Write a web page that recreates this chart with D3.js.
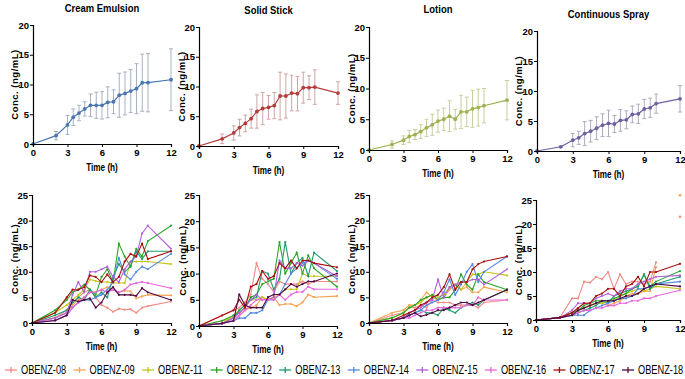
<!DOCTYPE html>
<html>
<head>
<meta charset="utf-8">
<script src="https://cdn.jsdelivr.net/npm/d3@7"></script>
<style>
  html, body { margin: 0; padding: 0; background: #fff; }
  svg { display: block; font-family: "Liberation Sans", Arial, sans-serif; }
  .tick text { font-size: 9.5px; font-weight: bold; fill: #000; }
  .domain, .tick line { stroke: #000; }
</style>
</head>
<body>
<svg id="chart" width="685" height="379"></svg>
<script>
// sampling times (h)
var times = [0, 2, 3, 3.5, 4, 4.5, 5, 5.5, 6, 6.5, 7, 7.5, 8, 8.5, 9, 9.5, 10, 12];
var xTicks = [0, 3, 6, 9, 12];
var yTicksTop = [0, 5, 10, 15, 20];
var yTicksBottom = [0, 5, 10, 15, 20, 25];

var formulations = ['Cream Emulsion', 'Solid Stick', 'Lotion', 'Continuous Spray'];

// mean concentrations and SD per formulation
var creamMean = [0, 1.4, 3.2, 4.5, 5.2, 5.9, 6.5, 6.5, 6.5, 7.0, 7.1, 8.2, 8.5, 8.9, 9.3, 10.3, 10.3, 10.8];
var creamSD   = [0, 0.7, 1.6, 1.4, 1.3, 1.2, 1.9, 2.2, 2.3, 2.6, 2.0, 3.7, 3.6, 3.6, 4.2, 4.8, 4.9, 5.2];
var stickMean = [0, 1.2, 2.2, 3.1, 3.8, 4.6, 5.8, 6.3, 6.5, 6.8, 8.4, 8.4, 8.9, 8.8, 9.8, 9.8, 9.9, 8.9];
var stickSD   = [0, 0.8, 1.2, 1.4, 1.4, 1.6, 2.8, 2.7, 2.0, 2.2, 4.0, 3.7, 3.0, 2.9, 2.6, 2.0, 2.9, 1.9];
var lotionMean = [0, 0.9, 1.6, 2.2, 2.5, 3.0, 3.6, 4.1, 4.7, 5.0, 5.5, 5.0, 6.2, 6.2, 6.7, 6.9, 7.2, 8.1];
var lotionSD   = [0, 0.6, 0.7, 1.0, 0.8, 1.1, 1.4, 1.7, 1.8, 1.8, 2.5, 1.6, 2.7, 2.4, 3.0, 3.0, 2.8, 3.2];
var sprayMean = [0, 0.7, 1.8, 2.2, 2.9, 3.3, 3.8, 4.3, 4.6, 4.5, 5.1, 5.2, 6.1, 6.2, 7.0, 7.2, 7.9, 8.7];
var spraySD   = [0, 0.1, 1.1, 1.1, 2.0, 1.8, 1.9, 1.9, 2.2, 1.4, 1.8, 1.5, 1.4, 1.6, 1.6, 1.6, 1.6, 2.2];

var subjects = ['OBENZ-08', 'OBENZ-09', 'OBENZ-11', 'OBENZ-12', 'OBENZ-13',
                'OBENZ-14', 'OBENZ-15', 'OBENZ-16', 'OBENZ-17', 'OBENZ-18'];

// individual profiles, one row per subject (same order as subjects)
var creamSubjects = [
  [0, 1.0, 2.5, 4.0, 5.0, 6.0, 6.5, 5.0, 3.5, 3.0, 2.2, 2.8, 2.6, 2.7, 2.0, 3.0, 3.3, 4.2],
  [0, 1.0, 2.0, 3.5, 4.5, 5.0, 6.0, 6.0, 6.5, 7.0, 6.5, 6.0, 6.3, 6.2, 4.8, 5.2, 5.5, 5.4],
  [0, 2.0, 3.5, 4.5, 5.5, 6.5, 8.5, 8.2, 8.0, 8.0, 7.8, 7.8, 7.8, 12.0, 12.0, 12.0, 12.0, 11.5],
  [0, 2.5, 4.5, 6.0, 6.5, 7.5, 6.5, 5.5, 9.0, 10.5, 8.0, 15.5, 13.0, 11.0, 14.5, 13.0, 16.0, 19.0],
  [0, 1.5, 2.5, 4.0, 5.0, 4.5, 6.5, 5.0, 6.0, 5.0, 9.0, 11.5, 10.0, 11.0, 14.0, 12.5, 14.0, 14.0],
  [0, 0.5, 1.5, 3.0, 4.0, 4.5, 4.5, 5.0, 5.5, 6.5, 8.0, 12.7, 9.5, 8.5, 10.0, 11.0, 10.5, 13.5],
  [0, 1.0, 2.0, 5.5, 8.0, 6.0, 10.0, 10.0, 10.5, 11.0, 9.0, 8.0, 10.5, 12.0, 13.0, 17.5, 19.0, 14.5],
  [0, 0.5, 1.5, 3.0, 4.0, 5.0, 6.0, 6.0, 6.5, 6.0, 6.5, 6.0, 6.5, 7.5, 7.8, 8.0, 7.8, 6.8],
  [0, 2.0, 5.0, 6.5, 6.5, 7.0, 9.3, 9.0, 8.0, 9.5, 8.0, 9.0, 12.0, 13.5, 13.0, 15.5, 12.5, 14.0],
  [0, 0.5, 1.5, 4.5, 4.2, 4.5, 4.8, 3.0, 4.0, 6.0, 7.0, 5.5, 5.5, 5.5, 5.3, 6.8, 6.0, 4.5]
];
var stickSubjects = [
  [0, 2.0, 3.0, 3.5, 4.5, 6.0, 12.0, 9.0, 8.0, 6.5, 8.5, 8.0, 8.0, 8.0, 8.5, 8.0, 8.5, 8.5],
  [0, 1.0, 1.5, 2.0, 3.0, 3.5, 4.0, 5.5, 5.0, 5.5, 4.0, 4.2, 4.2, 3.8, 4.5, 6.0, 5.5, 5.7],
  [0, 0.5, 2.0, 3.0, 4.0, 5.0, 5.0, 5.5, 5.0, 5.5, 6.0, 7.0, 7.0, 7.0, 10.0, 9.5, 9.5, 9.5],
  [0, 1.0, 2.0, 2.5, 3.5, 5.5, 6.0, 8.0, 8.5, 9.0, 16.0, 10.0, 12.0, 14.0, 10.0, 13.5, 11.0, 7.5],
  [0, 0.5, 1.5, 3.0, 4.0, 5.0, 5.5, 10.5, 10.0, 7.0, 9.0, 16.0, 10.0, 12.0, 13.0, 9.5, 14.0, 10.5],
  [0, 0.5, 1.0, 1.5, 1.5, 2.5, 2.5, 3.0, 5.0, 5.0, 6.0, 8.0, 10.0, 11.0, 12.0, 12.5, 12.0, 9.0],
  [0, 0.5, 1.5, 2.5, 3.5, 5.0, 6.0, 5.0, 5.0, 5.5, 12.5, 11.0, 11.0, 12.0, 11.5, 12.5, 12.0, 9.5],
  [0, 0.5, 1.0, 2.0, 3.0, 4.0, 5.0, 5.0, 5.0, 5.0, 6.0, 5.0, 6.0, 6.5, 6.5, 7.5, 7.0, 7.0],
  [0, 2.0, 3.0, 5.0, 3.5, 7.5, 8.0, 10.5, 9.0, 9.5, 12.0, 11.0, 12.5, 11.0, 12.5, 12.5, 12.0, 11.2],
  [0, 0.5, 1.0, 6.0, 4.0, 3.5, 3.5, 3.5, 5.5, 6.0, 6.0, 7.0, 8.0, 7.5, 8.0, 8.5, 8.5, 10.0]
];
var lotionSubjects = [
  [0, 1.5, 2.0, 3.0, 3.0, 3.5, 3.0, 4.5, 4.0, 4.0, 4.0, 3.5, 3.5, 3.5, 3.5, 3.0, 4.0, 4.5],
  [0, 2.0, 2.5, 3.5, 3.5, 4.5, 6.0, 5.0, 4.5, 5.0, 6.5, 7.5, 6.5, 7.0, 6.0, 6.0, 7.0, 6.0],
  [0, 1.0, 2.0, 3.0, 3.5, 4.0, 5.0, 5.5, 5.0, 5.5, 7.0, 7.5, 6.5, 8.0, 9.5, 9.5, 10.0, 9.3],
  [0, 1.0, 2.0, 3.0, 3.5, 4.5, 5.0, 5.5, 4.5, 5.0, 5.0, 6.5, 9.5, 7.5, 6.5, 9.5, 8.0, 6.5],
  [0, 0.5, 1.0, 1.5, 2.0, 2.5, 2.0, 2.0, 1.5, 3.0, 2.5, 2.0, 3.0, 3.5, 4.0, 3.5, 4.5, 6.5],
  [0, 0.5, 1.0, 1.5, 2.0, 2.5, 3.5, 4.0, 4.5, 6.0, 8.5, 5.5, 7.5, 10.0, 11.5, 8.0, 10.0, 13.0],
  [0, 0.5, 1.0, 2.0, 2.5, 3.0, 4.0, 4.5, 8.5, 5.0, 7.0, 7.5, 8.0, 8.0, 8.5, 8.5, 7.5, 10.5],
  [0, 0.5, 1.0, 1.0, 1.5, 2.0, 2.5, 2.5, 3.0, 3.0, 3.0, 3.0, 3.0, 3.5, 3.5, 5.0, 4.5, 4.5],
  [0, 0.5, 1.5, 2.0, 2.5, 3.5, 4.0, 5.0, 5.5, 7.0, 9.5, 6.5, 8.0, 8.0, 10.5, 11.5, 12.0, 13.0],
  [0, 0.5, 1.0, 1.5, 2.0, 1.3, 1.6, 2.0, 2.5, 2.5, 3.0, 3.5, 4.0, 4.0, 3.5, 4.0, 4.5, 6.5]
];
var spraySubjects = [
  [0, 0.5, 4.5, 4.5, 8.0, 7.8, 9.0, 8.5, 10.0, 6.5, 9.5, 7.5, 8.0, 8.0, 7.5, 8.0, 12.0, null],
  [0, 0.5, 1.5, 2.0, 2.5, 3.0, 3.5, 3.5, 3.0, 3.5, 4.0, 5.0, 5.5, 5.5, 6.0, 6.0, 11.0, null],
  [0, 0.5, 1.5, 2.0, 2.5, 3.0, 3.5, 3.5, 4.0, 4.0, 5.0, 5.5, 6.0, 6.5, 6.0, 6.5, 7.0, 6.5],
  [0, 0.5, 1.5, 2.0, 3.0, 3.5, 4.0, 4.0, 4.0, 4.5, 5.0, 5.5, 6.5, 7.0, 9.5, 7.0, 8.0, 10.2],
  [0, 0.5, 1.0, 1.5, 2.0, 2.5, 3.0, 4.0, 3.5, 5.0, 5.5, 6.0, 6.5, 7.0, 9.5, 6.5, 7.5, 9.0],
  [0, 0.5, 1.0, 1.0, 1.0, 2.0, 2.5, 3.0, 3.5, 4.0, 4.5, 4.5, 5.0, 6.5, 6.5, 7.0, 7.5, 8.0],
  [0, 0.5, 2.0, 3.5, 3.5, 3.5, 4.5, 5.0, 5.5, 5.0, 6.0, 6.5, 6.5, 7.5, 8.0, 8.5, 9.0, 9.3],
  [0, 0.5, 1.0, 1.5, 2.0, 2.0, 2.5, 2.5, 3.0, 3.0, 3.5, 3.5, 4.0, 4.0, 4.5, 4.5, 5.0, 6.2],
  [0, 0.5, 1.5, 2.5, 3.5, 3.5, 5.0, 5.5, 6.5, 6.5, 5.0, 7.0, 7.5, 9.0, 7.0, 10.0, 10.0, 11.7],
  [0, 0.5, 1.0, 2.0, 2.5, 3.0, 3.5, 4.0, 4.0, 4.0, 4.5, 5.0, 5.0, 5.5, 6.5, 7.0, 7.5, 7.0]
];
// 12 h values plotted as lone points (not joined to the profile)
var sprayLonePoints = [
  { subject: 'OBENZ-08', t: 12, v: 21.5 },
  { subject: 'OBENZ-09', t: 12, v: 26 }
];

var subjectColors = ['#f28a84', '#f5a24e', '#c6c41a', '#2aa52a', '#1f9a6c',
                     '#5288e0', '#b45fdc', '#e866dc', '#a80d0d', '#4e0a42'];
var meanColors = ['#4a77b2', '#b43b3b', '#9bb24e', '#6f60a0'];
var errColors  = ['#a7b1c2', '#cfa6a6', '#c8cf9e', '#b0aabd'];

var svg = d3.select('#chart');

// top row: mean +/- SD
var topPanels = [
  { x0: 33, x1: 171, y0: 144, y1: 25, lab: 15, title: 8, tlab: 167 },
  { x0: 199, x1: 338, y0: 146, y1: 27, lab: 182, title: 10, tlab: 170 },
  { x0: 369, x1: 507, y0: 150, y1: 27, lab: 352, title: 9, tlab: 173 },
  { x0: 537, x1: 680, y0: 151, y1: 31, lab: 519, title: 14, tlab: 174 }
];
var bottomPanels = [
  { x0: 32, x1: 171, y0: 323, y1: 195, lab: 15, tlab: 346 },
  { x0: 199, x1: 337, y0: 326, y1: 195, lab: 183, tlab: 349 },
  { x0: 369, x1: 507, y0: 323, y1: 195, lab: 352, tlab: 346 },
  { x0: 536, x1: 680, y0: 320, y1: 200, lab: 519, tlab: 343 }
];

var means = [creamMean, stickMean, lotionMean, sprayMean];
var sds = [creamSD, stickSD, lotionSD, spraySD];
var individual = [creamSubjects, stickSubjects, lotionSubjects, spraySubjects];

// condensed text: squeeze horizontally around its anchor point
function narrowText(g, x, y, str, squeeze) {
  return g.append('text')
    .attr('transform', 'translate(' + x + ',' + y + ') scale(' + squeeze + ',1)')
    .text(str);
}

function drawAxes(g, p, x, y, yTicks) {
  g.append('g')
    .attr('transform', 'translate(0,' + p.y0 + ')')
    .call(d3.axisBottom(x).tickValues(xTicks).tickSize(3).tickPadding(2));
  g.append('g')
    .attr('transform', 'translate(' + p.x0 + ',0)')
    .call(d3.axisLeft(y).tickValues(yTicks).tickSize(3).tickPadding(1));
  g.selectAll('.domain').attr('stroke-width', 1.2);

  narrowText(g, (p.x0 + p.x1) / 2, p.tlab, 'Time (h)', 0.78)
    .attr('text-anchor', 'middle')
    .attr('dy', '0.35em')
    .style('font-size', '10.5px')
    .style('font-weight', 'bold');

  g.append('text')
    .attr('transform', 'translate(' + p.lab + ',' + (p.y0 + p.y1) / 2 + ') rotate(-90)')
    .attr('text-anchor', 'middle')
    .attr('dy', '0.35em')
    .style('font-size', '9.5px')
    .style('font-weight', 'bold')
    .style('letter-spacing', '0.5px')
    .text('Conc. (ng/mL)');
}

topPanels.forEach(function(p, i) {
  var g = svg.append('g');
  var x = d3.scaleLinear().domain([0, 12]).range([p.x0, p.x1]);
  var y = d3.scaleLinear().domain([0, 20]).range([p.y0, p.y1]);
  var pts = times.map(function(t, k) { return { t: t, v: means[i][k], sd: sds[i][k] }; });

  // error bars
  var eb = g.append('g').attr('stroke', errColors[i]).attr('stroke-width', 1);
  pts.filter(function(d) { return d.sd > 0; }).forEach(function(d) {
    eb.append('line').attr('x1', x(d.t)).attr('x2', x(d.t))
      .attr('y1', y(d.v - d.sd)).attr('y2', y(d.v + d.sd));
    [d.v - d.sd, d.v + d.sd].forEach(function(v) {
      eb.append('line').attr('x1', x(d.t) - 2).attr('x2', x(d.t) + 2)
        .attr('y1', y(v)).attr('y2', y(v));
    });
  });

  g.append('path')
    .datum(pts)
    .attr('fill', 'none')
    .attr('stroke', meanColors[i])
    .attr('stroke-width', 1.2)
    .attr('d', d3.line().x(function(d) { return x(d.t); }).y(function(d) { return y(d.v); }));

  g.selectAll('circle').data(pts).enter().append('circle')
    .attr('cx', function(d) { return x(d.t); })
    .attr('cy', function(d) { return y(d.v); })
    .attr('r', 1.9)
    .attr('fill', meanColors[i]);

  drawAxes(g, p, x, y, yTicksTop);

  narrowText(g, (p.x0 + p.x1) / 2, p.title, formulations[i], 0.86)
    .attr('text-anchor', 'middle')
    .attr('dy', '0.35em')
    .style('font-size', '11px')
    .style('font-weight', 'bold');
});

bottomPanels.forEach(function(p, i) {
  var g = svg.append('g');
  var x = d3.scaleLinear().domain([0, 12]).range([p.x0, p.x1]);
  var y = d3.scaleLinear().domain([0, 25]).range([p.y0, p.y1]);

  individual[i].forEach(function(vals, s) {
    var pts = times.map(function(t, k) { return { t: t, v: vals[k] }; });
    g.append('path')
      .datum(pts)
      .attr('fill', 'none')
      .attr('stroke', subjectColors[s])
      .attr('stroke-width', 1.1)
      .attr('d', d3.line()
        .defined(function(d) { return d.v !== null; })
        .x(function(d) { return x(d.t); })
        .y(function(d) { return y(d.v); }));
    g.selectAll(null).data(pts.filter(function(d) { return d.v !== null; })).enter().append('circle')
      .attr('cx', function(d) { return x(d.t); })
      .attr('cy', function(d) { return y(d.v); })
      .attr('r', 1.1)
      .attr('fill', subjectColors[s]);
  });

  if (i === 3) {
    g.selectAll(null).data(sprayLonePoints).enter().append('circle')
      .attr('cx', function(d) { return x(d.t); })
      .attr('cy', function(d) { return y(d.v); })
      .attr('r', 1.3)
      .attr('fill', function(d) { return subjectColors[subjects.indexOf(d.subject)]; });
  }

  drawAxes(g, p, x, y, yTicksBottom);
});

// legend
var legend = svg.append('g').attr('transform', 'translate(0,370)');
var lx = d3.scalePoint().domain(subjects).range([5, 622]);
subjects.forEach(function(s, k) {
  var item = legend.append('g').attr('transform', 'translate(' + lx(s) + ',0)');
  item.append('line').attr('x1', 0).attr('x2', 12).attr('y1', 0).attr('y2', 0)
    .attr('stroke', subjectColors[k]).attr('stroke-width', 1.3);
  item.append('line').attr('x1', 6).attr('x2', 6).attr('y1', -3).attr('y2', 3)
    .attr('stroke', subjectColors[k]).attr('stroke-width', 1.3);
  narrowText(item, 16, 0, s, 0.74)
    .attr('dy', '0.35em')
    .style('font-size', '12.5px');
});
</script>
</body>
</html>
